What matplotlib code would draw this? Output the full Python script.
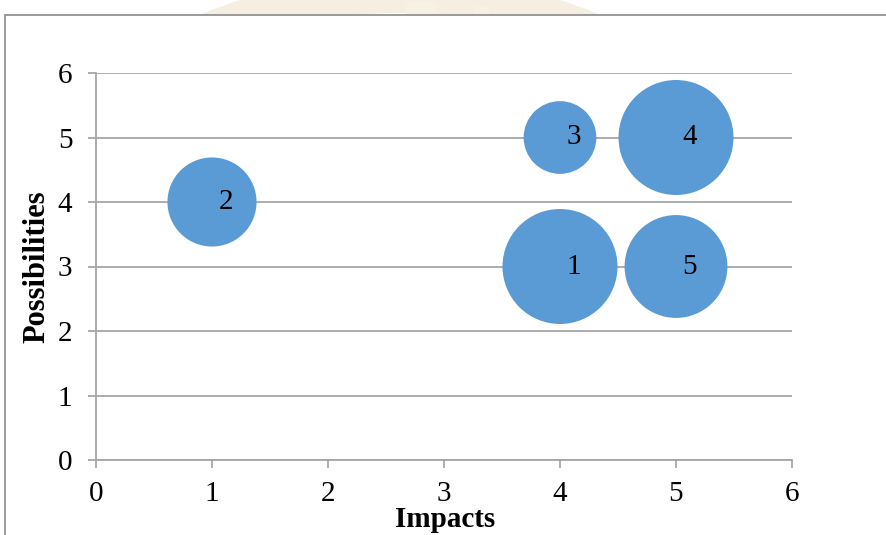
import numpy as np
import matplotlib
matplotlib.use("Agg")
import matplotlib.pyplot as plt
from matplotlib.patches import Rectangle, Wedge

# Risk items: impact (x), possibility (y), bubble size and label
risk_ids = ["1", "2", "3", "4", "5"]
impacts = [4, 1, 4, 5, 5]
possibilities = [3, 4, 5, 5, 3]
bubble_sizes = [5, 3, 2, 5, 4]

x_ticks = [0, 1, 2, 3, 4, 5, 6]
y_ticks = [0, 1, 2, 3, 4, 5, 6]

plt.rcParams["font.family"] = ["Liberation Serif", "DejaVu Serif"]

W, H, DPI = 886, 535, 100
fig = plt.figure(figsize=(W / DPI, H / DPI), dpi=DPI)
fig.patch.set_facecolor("white")

# faint page emblem showing above the chart frame
bg = fig.add_axes([0, 0, 1, 1], zorder=0)
bg.set_xlim(0, W)
bg.set_ylim(H, 0)
bg.axis("off")
strip = Rectangle((0, 0), W, 15, transform=bg.transData, fill=False, lw=0)
for p in [Wedge((400, 500), 525, 0, 360, width=38, color="#f6efe1", lw=0),
          Rectangle((405, 2), 32, 14, color="#f7f1e4", lw=0),
          Rectangle((475, 6), 14, 10, color="#f7f1e4", lw=0)]:
    bg.add_patch(p)
    p.set_clip_path(strip)

# chart area frame
bg.add_patch(Rectangle((5, 15), W + 20, H + 20, facecolor="white",
                       edgecolor="#8a8a8a", lw=1.2, zorder=2))

ax = fig.add_axes([96 / W, 1 - 460 / H, (792 - 96) / W, (460 - 73) / H], zorder=1)
ax.patch.set_alpha(0)

# bubble area proportional to size; largest bubble radius ~57.5 px
r_max_pt = 57.5 * 72 / DPI
sizes = np.array(bubble_sizes, dtype=float)
s = (2 * r_max_pt) ** 2 * sizes / sizes.max()
ax.scatter(impacts, possibilities, s=s, color="#5b9bd5", edgecolors="none",
           zorder=3, clip_on=False)

for xi, yi, lab in zip(impacts, possibilities, risk_ids):
    ax.annotate(lab, (xi, yi), xytext=(10, 0), textcoords="offset points",
                ha="center", va="center", fontsize=21, color="black", zorder=4)

ax.set_xlim(0, 6)
ax.set_ylim(0, 6)
ax.set_xticks(x_ticks)
ax.set_yticks(y_ticks)
ax.set_xticklabels([str(v) for v in x_ticks])
ax.set_yticklabels([str(v) for v in y_ticks])

grid_c = "#a6a6a6"
ax.yaxis.grid(True, color=grid_c, lw=1.3, zorder=1)
ax.xaxis.grid(False)
ax.set_axisbelow(True)
for side in ["top", "right"]:
    ax.spines[side].set_visible(False)
for side in ["left", "bottom"]:
    ax.spines[side].set_color(grid_c)
    ax.spines[side].set_linewidth(1.3)
ax.tick_params(axis="both", direction="out", length=6, width=1.3, color=grid_c,
               labelsize=21, labelcolor="black")
ax.tick_params(axis="x", pad=9)
ax.tick_params(axis="y", pad=11)

fig.text(37 / W, 1 - 267 / H, "Possibilities", rotation=90, ha="center",
         va="center", fontsize=22, fontweight="bold")
fig.text(445 / W, 2 / H, "Impacts", ha="center", va="bottom",
         fontsize=21, fontweight="bold")

fig.savefig("out.png", dpi=DPI, facecolor="white")
